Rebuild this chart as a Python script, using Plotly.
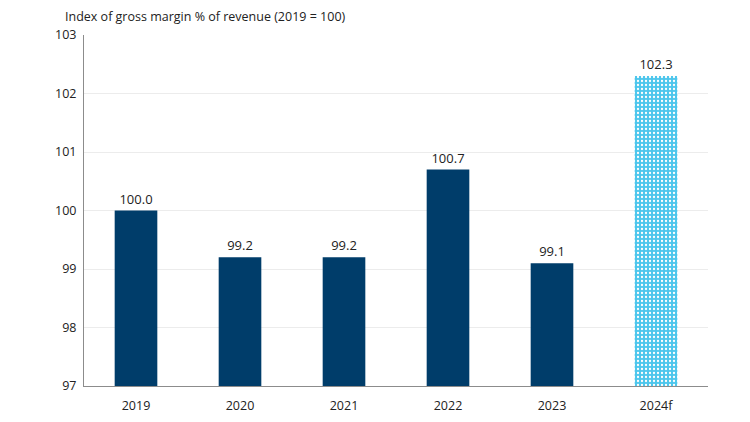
import plotly.graph_objects as go

years = ["2019", "2020", "2021", "2022", "2023"]
index_vals = [100.0, 99.2, 99.2, 100.7, 99.1]
labels = ["100.0", "99.2", "99.2", "100.7", "99.1"]
fc_year = ["2024f"]
fc_val = [102.3]
fc_label = ["102.3"]

navy = "#003D6A"
light = "#4CC6EC"

fig = go.Figure()
fig.add_trace(go.Bar(
    x=years, y=index_vals, base=0,
    marker=dict(color=navy, line=dict(width=0)),
    text=labels, textposition="outside", cliponaxis=False,
    textfont=dict(size=13, color="#222"),
))
# forecast bar, dotted fill
fig.add_trace(go.Bar(
    x=fc_year, y=fc_val, base=0,
    marker=dict(color=light, line=dict(width=0),
                pattern=dict(shape=".", fgcolor="white", bgcolor=light,
                             size=4, solidity=0.25, fillmode="replace")),
    text=fc_label, textposition="outside", cliponaxis=False,
    textfont=dict(size=13, color="#222"),
))

# page body adds an 8px offset, so margins are trimmed to compensate
fig.update_layout(
    width=742, height=414,
    margin=dict(l=76, r=42, t=27, b=36),
    plot_bgcolor="white", paper_bgcolor="white",
    font=dict(family="Open Sans", size=12.5, color="#222"),
    barmode="overlay", bargap=0.59, showlegend=False,
    xaxis=dict(showline=True, linecolor="#8c8c8c", linewidth=1, ticks="",
               ticklabelstandoff=8, automargin=False,
               categoryorder="array", categoryarray=years + fc_year),
    yaxis=dict(range=[97, 103], dtick=1, showline=True, linecolor="#8c8c8c",
               gridcolor="#ececec", ticks="", zeroline=False,
               ticklabelstandoff=4, automargin=False),
    annotations=[dict(text="Index of gross margin % of revenue (2019 = 100)",
                      xref="paper", yref="paper", x=-0.033, y=1.0,
                      xanchor="left", yanchor="bottom", yshift=8,
                      showarrow=False, font=dict(size=12.5))],
)
fig.write_html("out.html")
